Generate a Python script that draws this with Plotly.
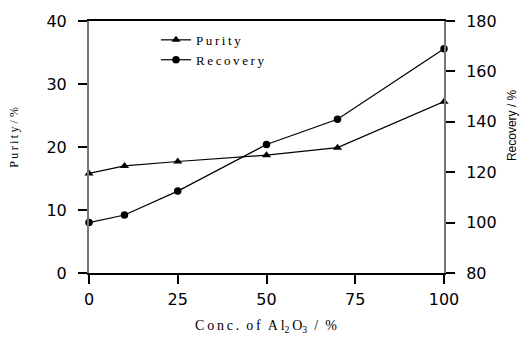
import plotly.graph_objects as go

conc = [0, 10, 25, 50, 70, 100]
purity = [15.8, 17.0, 17.7, 18.7, 19.9, 27.2]
recovery = [100, 103, 112.5, 131, 141, 169]

TS = "\u2009"  # thin space for letter spacing


def spaced(s):
    return TS.join(list(s))


fig = go.Figure()
fig.add_trace(go.Scatter(x=conc, y=purity, name=spaced("Purity"), mode="lines+markers",
                         line=dict(color="black", width=1.2),
                         marker=dict(symbol="triangle-up", size=8, color="black"),
                         cliponaxis=False))
fig.add_trace(go.Scatter(x=conc, y=recovery, name=spaced("Recovery"), mode="lines+markers",
                         line=dict(color="black", width=1.2),
                         marker=dict(symbol="circle", size=7.5, color="black"),
                         yaxis="y2", cliponaxis=False))

tickfont = dict(family="DejaVu Sans", size=16, color="black")
serif = "Liberation Serif, Times New Roman"

L, R, T, B = 89, 77, 14, 68
W, H = 521, 341
pw, ph = W - L - R, H - T - B


def px(x):
    return (x - L) / pw


def py(y):
    return (H - B - y) / ph


fig.update_layout(
    width=W, height=H,
    margin=dict(l=L, r=R, t=T, b=B),
    plot_bgcolor="white", paper_bgcolor="white",
    showlegend=True,
    legend=dict(x=px(156), y=py(18), xanchor="left", yanchor="top",
                font=dict(family=serif, size=13, color="black"),
                bgcolor="rgba(0,0,0,0)", tracegroupgap=0, itemwidth=30),
    xaxis=dict(range=[0, 100], tickvals=[0, 25, 50, 75, 100], ticks="outside",
               ticklen=9, tickwidth=1.5, tickcolor="black", showline=True,
               linecolor="black", linewidth=1.5, mirror=True, showgrid=False,
               zeroline=False, tickfont=tickfont, ticklabelstandoff=2),
    yaxis=dict(range=[0, 40], tickvals=[0, 10, 20, 30, 40], ticks="outside",
               ticklen=9, tickwidth=1.5, tickcolor="black", showline=True,
               linecolor="#777", linewidth=2, showgrid=False, zeroline=False,
               tickfont=tickfont, ticklabelstandoff=8),
    yaxis2=dict(range=[80, 180], tickvals=[80, 100, 120, 140, 160, 180], ticks="outside",
                ticklen=9, tickwidth=1.5, tickcolor="black", showline=True,
                linecolor="#777", linewidth=2, showgrid=False, zeroline=False,
                overlaying="y", side="right", anchor="x", tickfont=tickfont,
                ticklabelstandoff=8),
    annotations=[
        dict(text=spaced("Conc.") + "\u2002" + spaced("of") + "\u2002"
             + TS.join(["A", "l<sub>2</sub>", "O<sub>3</sub>"]) + "\u2002/\u2002%",
             xref="paper", yref="paper", x=px(266), y=py(328),
             xanchor="center", yanchor="middle", showarrow=False,
             font=dict(family=serif, size=14, color="black")),
        dict(text=spaced("Purity") + " / %", xref="paper", yref="paper",
             x=px(14), y=py(134), xanchor="center", yanchor="middle",
             textangle=-90, showarrow=False,
             font=dict(family=serif, size=12, color="black")),
        dict(text="Recovery / %", xref="paper", yref="paper",
             x=px(512), y=py(121), xanchor="center", yanchor="middle",
             textangle=-90, showarrow=False,
             font=dict(family="Liberation Sans, Arial", size=12, color="black")),
    ],
)

fig.write_html("out.html")
